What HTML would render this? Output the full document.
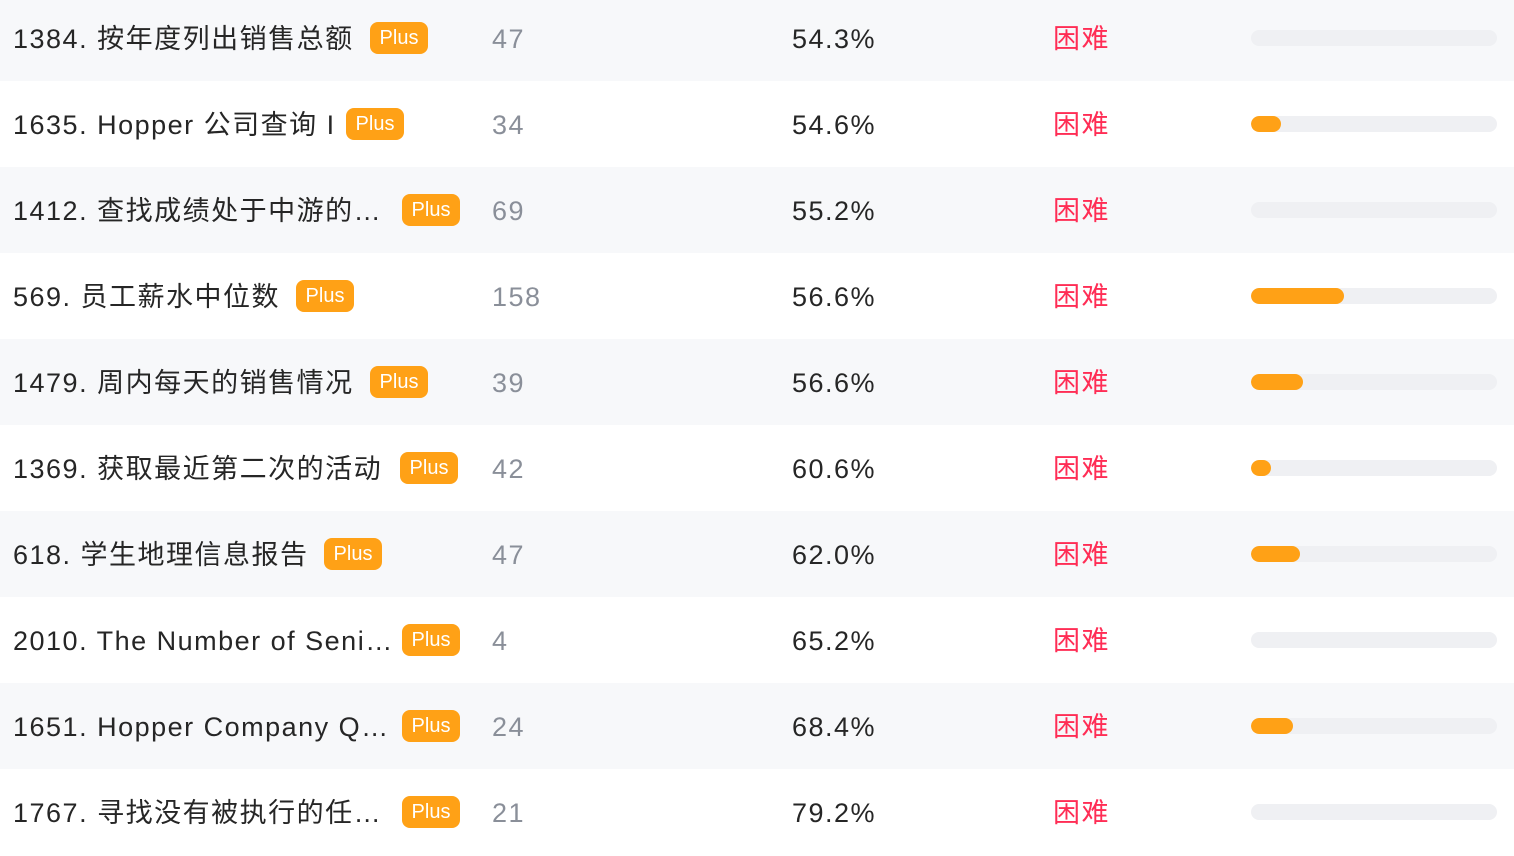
<!DOCTYPE html>
<html><head><meta charset="utf-8"><style>
body{margin:0;width:1514px;height:852px;overflow:hidden;background:#fff;font-family:"Liberation Sans","Noto Sans CJK SC",sans-serif;}
.row{position:absolute;left:0;width:1514px;height:86px;}
.row.g{background:#f7f8fa;}
.row span{position:absolute;top:1px;line-height:86px;font-size:27px;letter-spacing:1.5px;white-space:nowrap;}
.t{left:13px;color:#262626;}
.c{left:492px;color:#8a8f99;}
.p{left:792px;color:#262626;}
.d{left:1053px;color:#ff2d55;}
.b{position:absolute;top:27px;height:32px;width:58px;border-radius:8px;background:#ffa116;color:#fff;font-size:20px;line-height:32px;text-align:center;}
.bar{position:absolute;left:1251px;top:35px;width:246px;height:16px;border-radius:8px;background:#eff0f3;overflow:hidden;}
.fill{height:16px;border-radius:8px;background:#ffa116;}
</style></head><body>
<div id="list"></div>
<script>
const titles=["1384. 按年度列出销售总额","1635. Hopper 公司查询 I","1412. 查找成绩处于中游的…","569. 员工薪水中位数","1479. 周内每天的销售情况","1369. 获取最近第二次的活动","618. 学生地理信息报告","2010. The Number of Seni…","1651. Hopper Company Q…","1767. 寻找没有被执行的任…"];
const counts=[47,34,69,158,39,42,47,4,24,21];
const rates=["54.3%","54.6%","55.2%","56.6%","56.6%","60.6%","62.0%","65.2%","68.4%","79.2%"];
const freq=[0,0.12,0,0.38,0.21,0.08,0.2,0,0.17,0];
const badgeX=[370,346,402,296,370,400,324,402,402,402];
const list=document.getElementById('list');
titles.forEach((t,i)=>{
 const r=document.createElement('div');
 r.className='row'+(i%2===0?' g':'');
 r.style.top=(-5+86*i)+'px';
 
 
 r.innerHTML='<span class="t">'+t+'</span>'+
 '<div class="b" style="left:'+badgeX[i]+'px">Plus</div>'+
 '<span class="c">'+counts[i]+'</span>'+
 '<span class="p">'+rates[i]+'</span>'+
 '<span class="d">困难</span>'+
 '<div class="bar"><div class="fill" style="width:'+(freq[i]*246)+'px"></div></div>';
 list.appendChild(r);
});
</script>
</body></html>
